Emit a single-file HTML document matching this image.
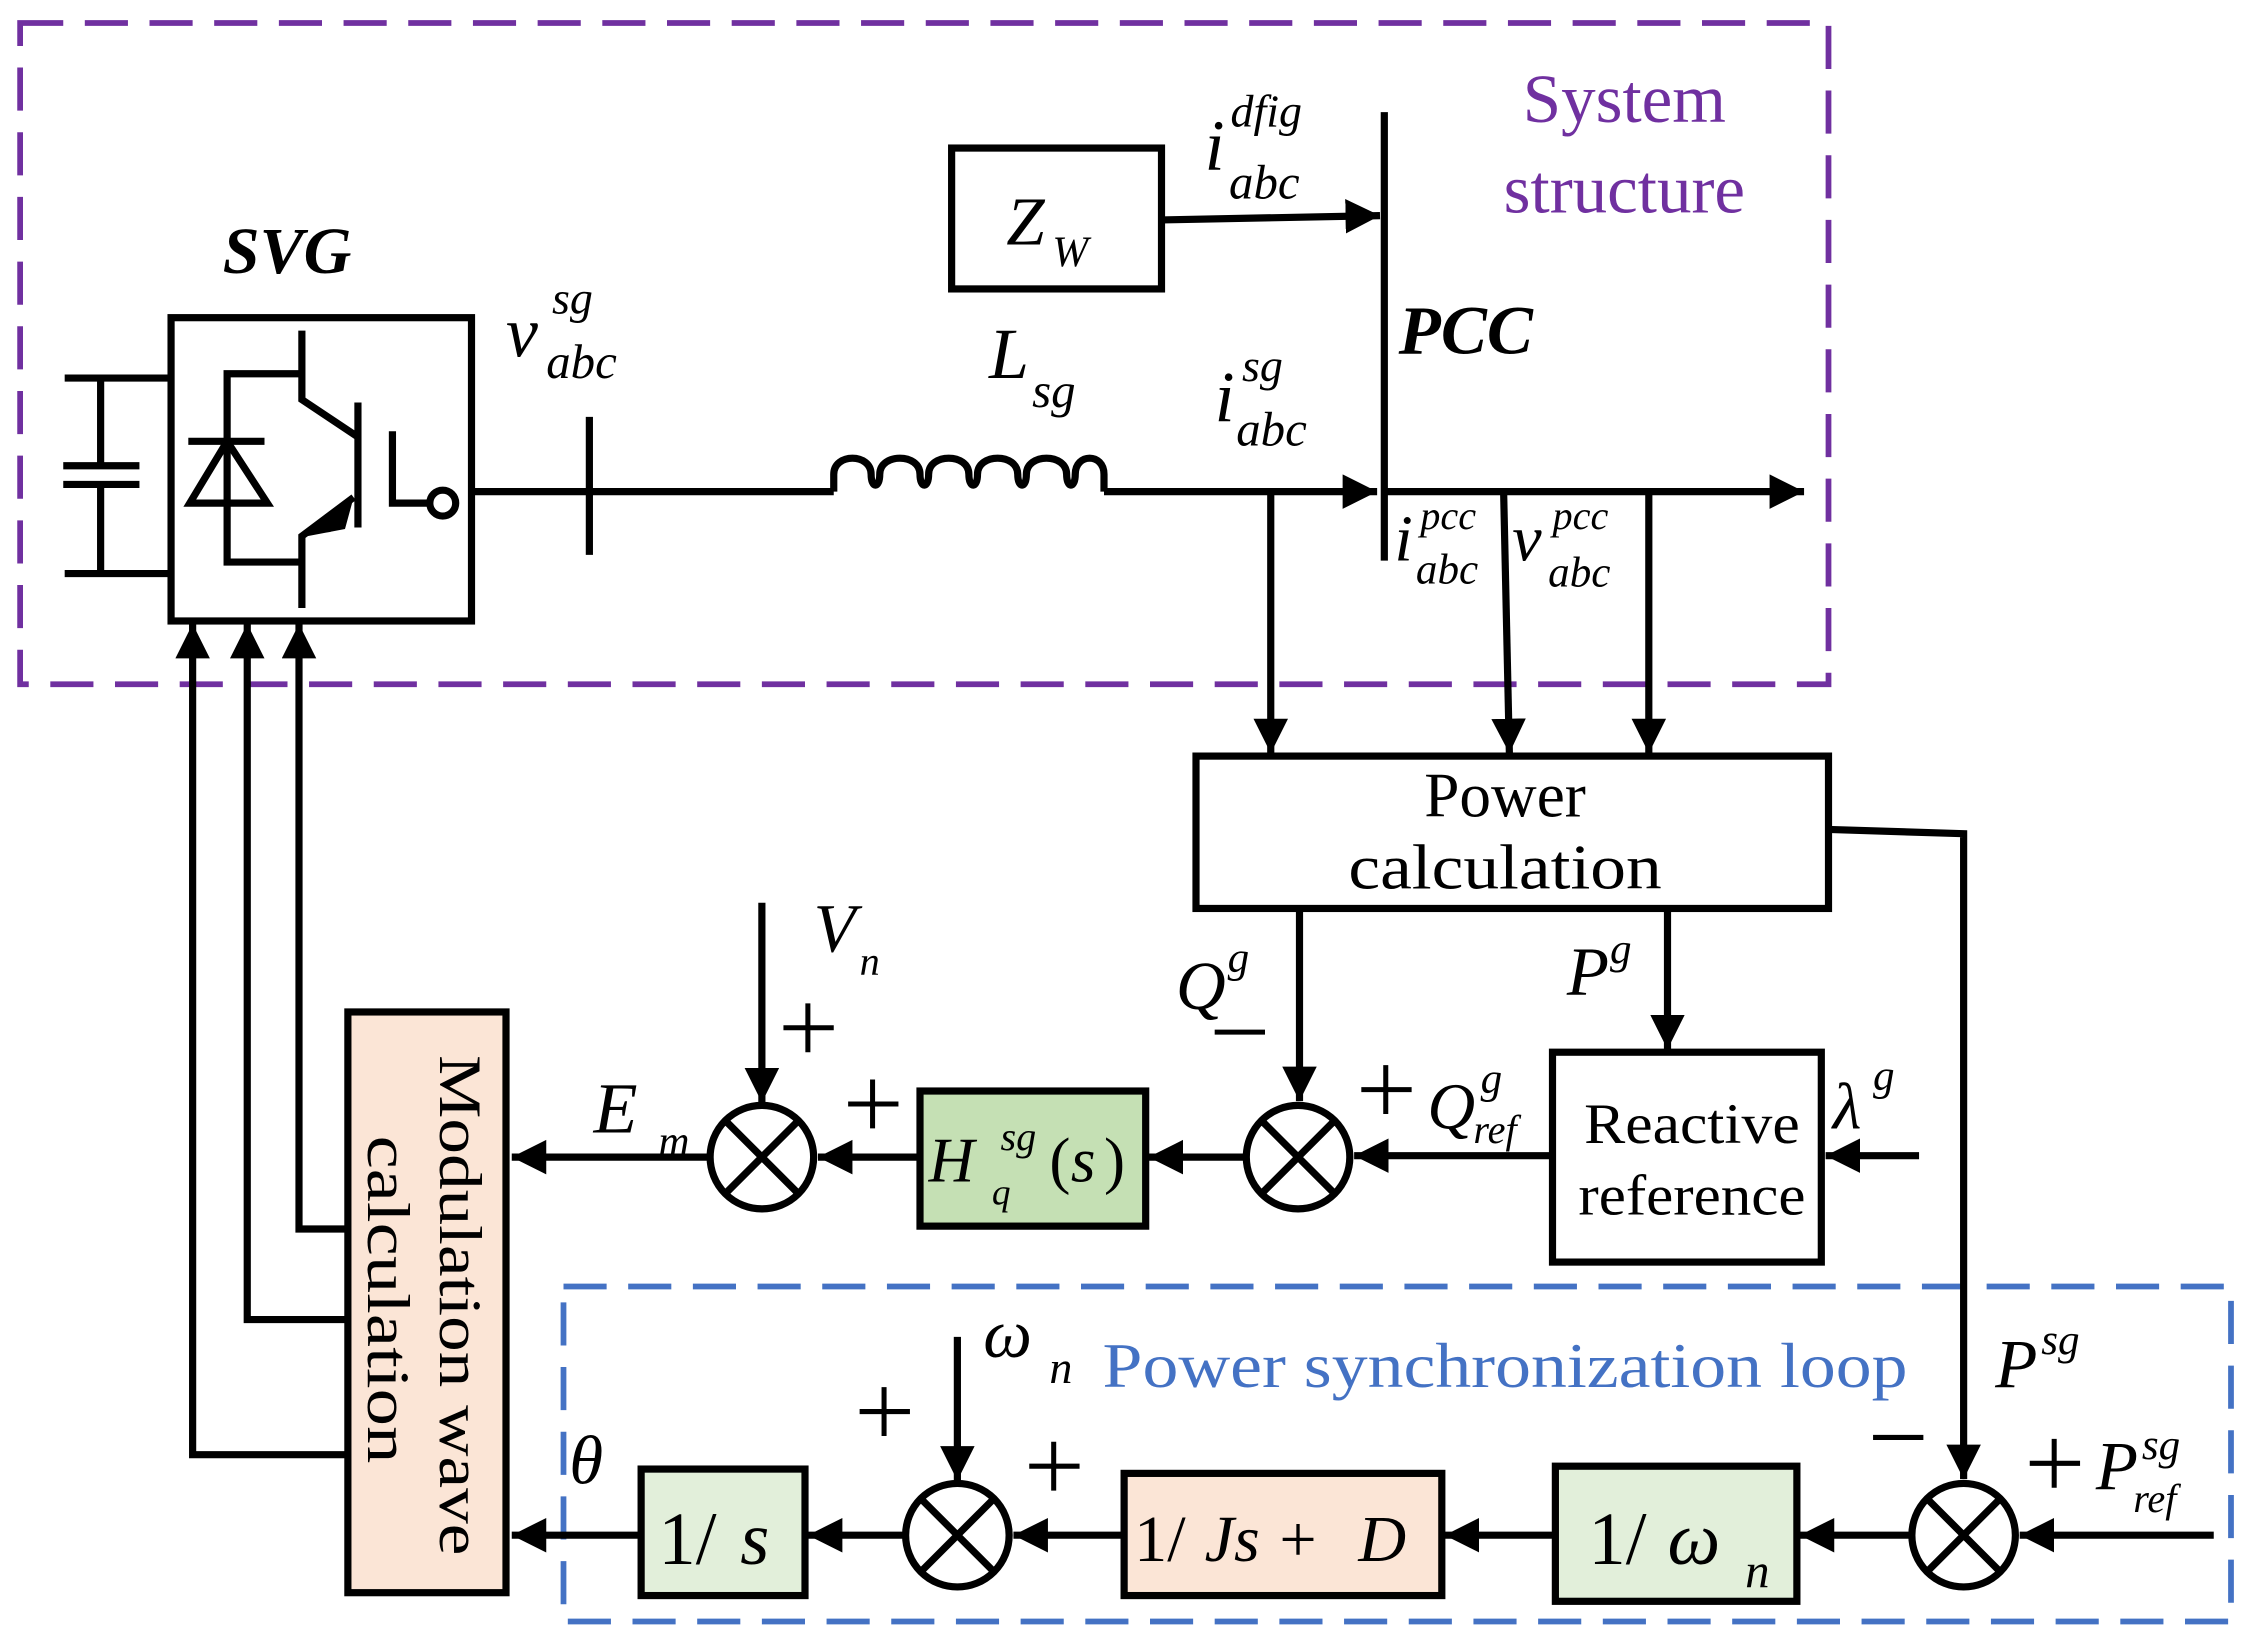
<!DOCTYPE html>
<html><head><meta charset="utf-8"><style>
html,body{margin:0;padding:0;background:#fff;}
svg{display:block;}
text{font-family:"Liberation Serif",serif;}
.i{font-style:italic;}
</style></head><body>
<svg width="2254" height="1643" viewBox="0 0 1568 1143" preserveAspectRatio="none" xmlns="http://www.w3.org/2000/svg">
<defs>
<marker id="a" markerUnits="userSpaceOnUse" markerWidth="30" markerHeight="30" refX="24" refY="12" orient="auto">
<path d="M0,0 L24,12 L0,24 Z" fill="#000"/>
</marker>
</defs>
<g fill="none" stroke-width="4">
<rect x="14" y="16" width="1258" height="460" stroke="#7030a0" stroke-dasharray="30,15"/>
<rect x="392" y="895" width="1160" height="233" stroke="#4472c4" stroke-dasharray="30,15"/>
</g>
<g stroke="#000" stroke-width="5" fill="none">
<rect x="119" y="221" width="209" height="211"/>
<path d="M45,263 H117 M45,399 H117 M70,263 V324 M70,337 V399 M44,324 H97 M44,337 H97"/>
<path d="M208,260 H158 V391 H208 M131,307 H184"/>
<path d="M158,307 L132,350 H186 Z"/>
<path d="M210,230 V278 L249,304 M249,280 V367 M246,346 L210,373 V423"/>
<path d="M273,300 V350 H300"/>
<circle cx="308" cy="350" r="9"/>
<path d="M328,342 H580 M410,290 V386"/>
<path d="M580,342 V330 C580,315 606,315 606,330 C606,340 612,340 612,330 C612,315 640,315 640,330 C640,340 646,340 646,330 C646,315 674,315 674,330 C674,340 680,340 680,330 C680,315 708,315 708,330 C708,340 714,340 714,330 C714,315 742,315 742,330 C742,340 748,340 748,330 C748,315 768,315 768,330 V342"/>
<path d="M768,342 H958" marker-end="url(#a)"/>
<path d="M963,342 H1255" marker-end="url(#a)"/>
<path d="M963,78 V390"/>
<rect x="662" y="103" width="146" height="98"/>
<path d="M808,153 L960,150" marker-end="url(#a)"/>
<path d="M884,342 V524" marker-end="url(#a)"/>
<path d="M1046,342 L1050,524" marker-end="url(#a)"/>
<path d="M1147,342 V524" marker-end="url(#a)"/>
<rect x="832" y="526" width="440" height="106"/>
<path d="M1272,577 L1366,580 V1029" marker-end="url(#a)"/>
<path d="M904,632 V766" marker-end="url(#a)"/>
<path d="M1160,632 V730" marker-end="url(#a)"/>
<rect x="1080" y="732" width="187" height="146"/>
<path d="M1335,804 H1270" marker-end="url(#a)"/>
<path d="M1080,804 H942" marker-end="url(#a)"/>
<circle cx="903" cy="805" r="36"/>
<path d="M878,780 L928,830 M928,780 L878,830"/>
<path d="M867,805 H799" marker-end="url(#a)"/>
<rect x="640" y="759" width="157" height="94" fill="#c5e0b4"/>
<path d="M640,805 H569" marker-end="url(#a)"/>
<circle cx="530" cy="805" r="36"/>
<path d="M505,780 L555,830 M555,780 L505,830"/>
<path d="M530,628 V767" marker-end="url(#a)"/>
<path d="M494,805 H356" marker-end="url(#a)"/>
<rect x="242" y="704" width="110" height="404" fill="#fbe5d6"/>
<path d="M242,855 H208 V434" marker-end="url(#a)"/>
<path d="M242,918 H172 V434" marker-end="url(#a)"/>
<path d="M242,1012 H134 V434" marker-end="url(#a)"/>
<path d="M1540,1068 H1405" marker-end="url(#a)"/>
<circle cx="1366" cy="1068" r="36"/>
<path d="M1341,1043 L1391,1093 M1391,1043 L1341,1093"/>
<path d="M1330,1068 H1252" marker-end="url(#a)"/>
<rect x="1082" y="1020" width="168" height="94" fill="#e2efda"/>
<path d="M1082,1068 H1005" marker-end="url(#a)"/>
<rect x="782" y="1025" width="221" height="85" fill="#fbe5d6"/>
<path d="M782,1068 H705" marker-end="url(#a)"/>
<circle cx="666" cy="1068" r="36"/>
<path d="M641,1043 L691,1093 M691,1043 L641,1093"/>
<path d="M666,930 V1030" marker-end="url(#a)"/>
<path d="M630,1068 H562" marker-end="url(#a)"/>
<rect x="446" y="1022" width="114" height="88" fill="#e2efda"/>
<path d="M446,1068 H356" marker-end="url(#a)"/>
</g>
<!-- plus / minus signs -->
<g stroke="#000" stroke-width="3.5" fill="none">
<path d="M545,715 H580 M562,698 V732"/>
<path d="M590,768 H625 M607,751 V785"/>
<path d="M947,758 H982 M964,741 V775"/>
<path d="M598,982 H633 M615,965 V999"/>
<path d="M716,1020 H751 M733,1003 V1037"/>
<path d="M1412,1018 H1447 M1429,1001 V1035"/>
<path d="M845,718 H880"/>
<path d="M1303,1000 H1338"/>
</g>
<path d="M246,346 L230,370 L212,373 L236,356 Z M226,358 L246,346 L240,368 L214,373 Z" fill="#000"/>
<g fill="#000">
<text x="155" y="190" font-size="46" font-weight="bold" font-style="italic">SVG</text>
<text x="352" y="248" font-size="50" class="i">v</text>
<text x="384" y="218" font-size="32" class="i">sg</text>
<text x="380" y="263" font-size="34" class="i">abc</text>
<text x="688" y="263" font-size="50" class="i">L</text>
<text x="718" y="283" font-size="34" class="i">sg</text>
<text x="845" y="293" font-size="50" class="i">i</text>
<text x="864" y="265" font-size="32" class="i">sg</text>
<text x="860" y="310" font-size="34" class="i">abc</text>
<text x="838" y="118" font-size="50" class="i">i</text>
<text x="856" y="88" font-size="32" class="i">dfig</text>
<text x="855" y="138" font-size="34" class="i">abc</text>
<text x="700" y="170" font-size="48" class="i">Z</text>
<text x="732" y="185" font-size="30" class="i">W</text>
<text x="973" y="246" font-size="48" font-weight="bold" font-style="italic">PCC</text>
<text x="970" y="390" font-size="46" class="i">i</text>
<text x="988" y="368" font-size="28" class="i">pcc</text>
<text x="985" y="406" font-size="30" class="i">abc</text>
<text x="1052" y="390" font-size="46" class="i">v</text>
<text x="1080" y="368" font-size="28" class="i">pcc</text>
<text x="1077" y="408" font-size="30" class="i">abc</text>
<text x="1130" y="85" font-size="48" fill="#7030a0" text-anchor="middle">System</text>
<text x="1130" y="148" font-size="48" fill="#7030a0" text-anchor="middle">structure</text>
<text x="1047" y="568" font-size="44" text-anchor="middle">Power</text>
<text x="1047" y="618" font-size="44" text-anchor="middle" textLength="218" lengthAdjust="spacingAndGlyphs">calculation</text>
<text x="818" y="702" font-size="48" class="i">Q</text>
<text x="854" y="676" font-size="30" class="i">g</text>
<text x="1090" y="692" font-size="48" class="i">P</text>
<text x="1120" y="670" font-size="30" class="i">g</text>
<text x="993" y="785" font-size="46" class="i">Q</text>
<text x="1030" y="760" font-size="30" class="i">g</text>
<text x="1025" y="795" font-size="28" class="i">ref</text>
<text x="1275" y="785" font-size="46" class="i">λ</text>
<text x="1303" y="758" font-size="30" class="i">g</text>
<text x="1177" y="795" font-size="40" text-anchor="middle" textLength="150" lengthAdjust="spacingAndGlyphs">Reactive</text>
<text x="1177" y="845" font-size="40" text-anchor="middle" textLength="158" lengthAdjust="spacingAndGlyphs">reference</text>
<text x="646" y="822" font-size="44" class="i">H</text>
<text x="696" y="800" font-size="28" class="i">sg</text>
<text x="690" y="838" font-size="26" class="i">q</text>
<text x="730" y="822" font-size="44">(</text>
<text x="745" y="822" font-size="44" class="i">s</text>
<text x="768" y="822" font-size="44">)</text>
<text x="566" y="662" font-size="48" class="i">V</text>
<text x="598" y="678" font-size="28" class="i">n</text>
<text x="413" y="788" font-size="50" class="i">E</text>
<text x="458" y="804" font-size="30" class="i">m</text>
<text transform="translate(306,734) rotate(90)" font-size="42" textLength="348" lengthAdjust="spacingAndGlyphs">Modulation wave</text>
<text transform="translate(256,790) rotate(90)" font-size="42" textLength="228" lengthAdjust="spacingAndGlyphs">calculation</text>
<text x="1388" y="965" font-size="48" class="i">P</text>
<text x="1420" y="942" font-size="30" class="i">sg</text>
<text x="1458" y="1036" font-size="48" class="i">P</text>
<text x="1490" y="1015" font-size="30" class="i">sg</text>
<text x="1484" y="1052" font-size="28" class="i">ref</text>
<text x="1105" y="1088" font-size="52">1/</text>
<text x="1160" y="1088" font-size="52" class="i">ω</text>
<text x="1214" y="1104" font-size="34" class="i">n</text>
<text x="789" y="1086" font-size="46">1/</text>
<text x="838" y="1086" font-size="46" class="i">Js</text>
<text x="890" y="1086" font-size="46">+</text>
<text x="945" y="1086" font-size="46" class="i">D</text>
<text x="458" y="1088" font-size="52">1/</text>
<text x="515" y="1088" font-size="52" class="i">s</text>
<text x="684" y="944" font-size="48" class="i">ω</text>
<text x="730" y="962" font-size="32" class="i">n</text>
<text x="767" y="965" font-size="44" fill="#4472c4" textLength="560" lengthAdjust="spacingAndGlyphs">Power synchronization loop</text>
<text x="396" y="1032" font-size="48" class="i">θ</text>
</g>
</svg>
</body></html>
